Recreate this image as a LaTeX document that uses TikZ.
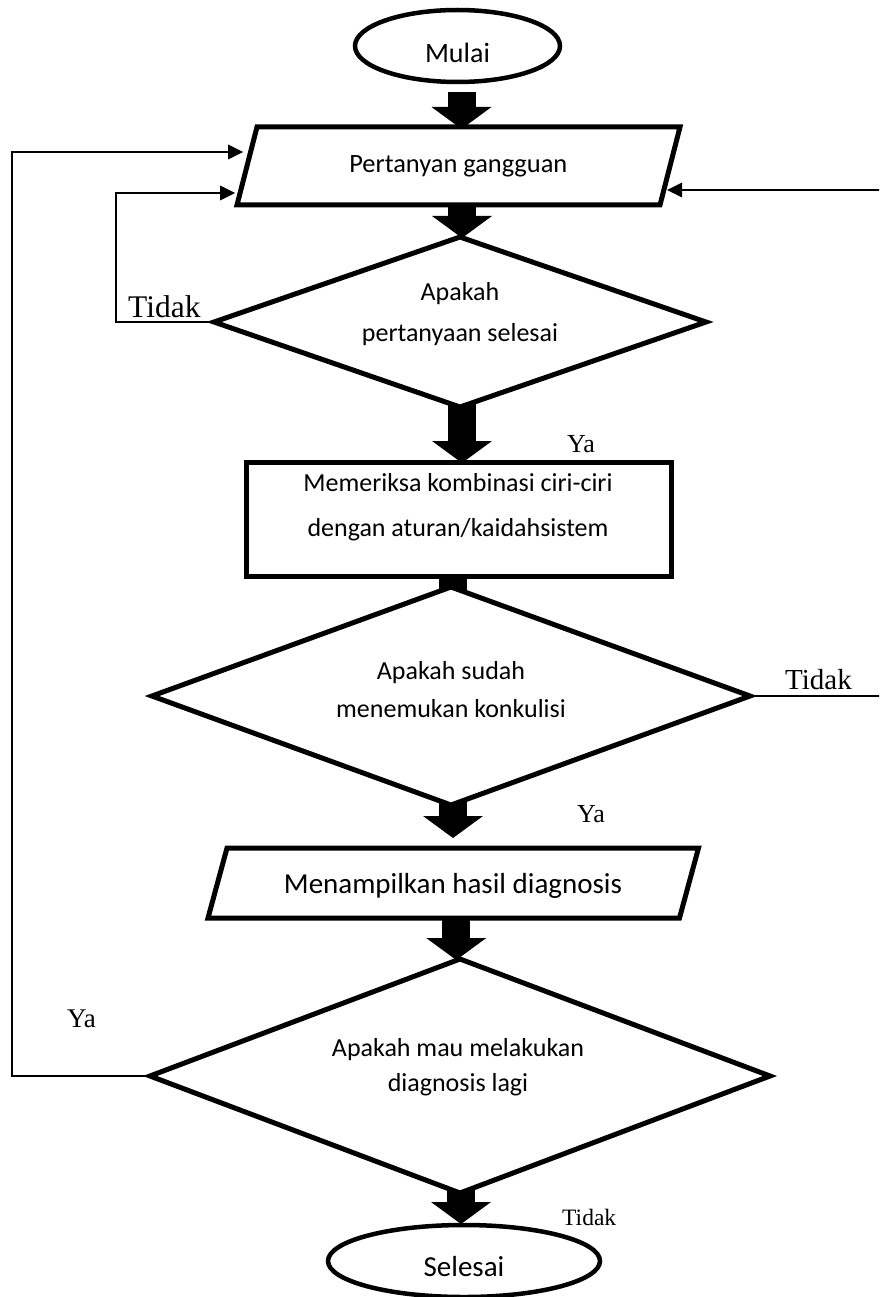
\documentclass[tikz,border=0pt]{standalone}
\usepackage{fontspec}
\setmainfont{Carlito}
\newfontfamily\serifface{Liberation Serif}
\usetikzlibrary{arrows.meta,shapes.geometric,calc}
\begin{document}
\begin{tikzpicture}[x=1pt,y=-1pt,
  frame/.style={draw=none,rectangle,inner sep=0pt,outer sep=0pt},
  terminal/.style={ellipse,draw,line width=4.5pt,fill=white,inner sep=0pt,outer sep=0pt},
  outline/.style={draw,line width=5pt,fill=white,line join=miter},
  fat/.style={line width=28pt,-{Triangle[length=22pt,width=60pt,line width=0pt]}},
  link/.style={line width=1.6pt,-{Triangle[length=15pt,width=15pt,line width=0pt]}},
  txt/.style={font=\fontsize{#1}{#1}\selectfont,inner sep=0pt,anchor=base},
  lbl/.style={font=\serifface\fontsize{#1}{#1}\selectfont,inner sep=0pt,anchor=base west}]

\useasboundingbox (0,0) rectangle (879,1297);
\clip (0,0) rectangle (879,1297);
\fill[white] (0,0) rectangle (879,1297);

% frames of the flowchart steps
\node[frame,minimum width=423pt,minimum height=78pt] (p1) at (458.5,166) {};
\node[frame,minimum width=492pt,minimum height=170pt] (d1) at (460,322) {};
\node[frame,minimum width=425pt,minimum height=114pt] (r1) at (458.5,519) {};
\node[frame,minimum width=598pt,minimum height=218pt] (d2) at (451,696) {};
\node[frame,minimum width=471.5pt,minimum height=70pt] (p2) at (453.25,883) {};
\node[frame,minimum width=620pt,minimum height=234pt] (d3) at (460,1076) {};
\node[terminal,minimum width=205pt,minimum height=72pt] (mulai) at (457.5,46) {};
\node[terminal,minimum width=272pt,minimum height=72pt] (selesai) at (464,1261) {};

% block arrows of the main flow (drawn below the white-filled shapes)
\draw[fat] ($(mulai.south)+(4,10)$) -- ($(mulai.south |- p1.north)+(4,2)$);
\draw[fat] ($(p1.center)+(3.5,20)$) -- ($(p1.center |- d1.north)+(3.5,1)$);
\draw[fat] ($(d1.center)+(2,50)$) -- ($(d1.center |- r1.north)+(2,1)$);
\draw[fat] ($(r1.center)+(-6,40)$) -- ($(r1.center)+(-6,121)$);
\draw[fat] ($(d2.center)+(2,60)$) -- ($(d2.center |- p2.north)+(2,-10)$);
\draw[fat] ($(p2.center)+(3,20)$) -- ($(p2.center |- d3.north)+(3,1)$);
\draw[fat] ($(d3.center)+(1,60)$) -- ($(d3.center |- selesai.north)+(1,-1)$);

% outlines
\draw[outline] ($(p1.north west)+(10,0)$) -- ($(p1.north east)+(10,0)$) -- ($(p1.south east)+(-10,0)$) -- ($(p1.south west)+(-10,0)$) -- cycle;
\draw[outline] (d1.north) -- (d1.east) -- (d1.south) -- (d1.west) -- cycle;
\draw[outline] (r1.north west) rectangle (r1.south east);
\draw[outline] (d2.north) -- (d2.east) -- (d2.south) -- (d2.west) -- cycle;
\draw[outline] ($(p2.north west)+(9.5,0)$) -- ($(p2.north east)+(9.5,0)$) -- ($(p2.south east)+(-9.5,0)$) -- ($(p2.south west)+(-9.5,0)$) -- cycle;
\draw[outline] (d3.north) -- (d3.east) -- (d3.south) -- (d3.west) -- cycle;

% texts inside the shapes
\node[txt=28] (tmulai) at (457.5,63) {Mulai};
\node[txt=26.4] (tp1) at (458.3,173) {Pertanyan gangguan};
\node[txt=26] (td1a) at (460,300) {Apakah};
\node[txt=26] (td1b) at (460,341) {pertanyaan selesai};
\node[txt=26] (tr1a) at (458,491) {Memeriksa kombinasi ciri-ciri};
\node[txt=26] (tr1b) at (458,536) {dengan aturan/kaidahsistem};
\node[txt=26] (td2a) at (451,679) {Apakah sudah};
\node[txt=26] (td2b) at (451,717) {menemukan konkulisi};
\node[txt=29] (tp2) at (453,893) {Menampilkan hasil diagnosis};
\node[txt=26] (td3a) at (458,1056) {Apakah mau melakukan};
\node[txt=26] (td3b) at (458,1091) {diagnosis lagi};
\node[txt=29] (tsel) at (464,1276) {Selesai};

% feedback lines
\coordinate (outerx) at (12,0);
\coordinate (innerx) at (116,0);
\coordinate (rightx) at (890,0);
\coordinate (inA) at (243,152);
\coordinate (inB) at (235,193);
\coordinate (inC) at (667,190);
\draw[link] (d3.west) -- (d3.west -| outerx) |- (inA);
\draw[link] (d1.west) -- (d1.west -| innerx) |- (inB);
\draw[link] (d2.east) -- (d2.east -| rightx) |- (inC);

% branch labels
\node[lbl=31.5] (l1) at (128,317) {Tidak};
\node[lbl=26] (l2) at (567,452) {Ya};
\node[lbl=29] (l3) at (785,689) {Tidak};
\node[lbl=26] (l4) at (577,822) {Ya};
\node[lbl=27] (l5) at (67,1027) {Ya};
\node[lbl=23.5] (l6) at (562,1225) {Tidak};
\end{tikzpicture}
\end{document}
